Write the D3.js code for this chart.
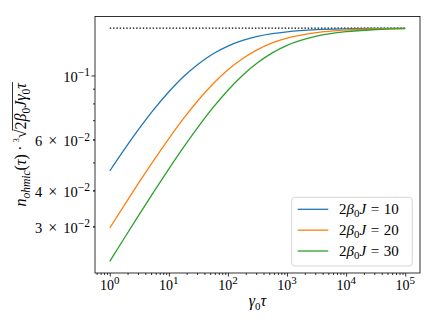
<!DOCTYPE html>
<html><head><meta charset="utf-8">
<script src="https://cdn.jsdelivr.net/npm/d3@7"></script>
<style>body{margin:0;background:#fff} text{font-family:"Liberation Serif","DejaVu Serif",serif;fill:#000}</style>
</head><body>
<svg id="c" width="436" height="327"></svg>
<script>
// ---- data ----
const tVals = [1, 1.778, 3.162, 5.623, 10, 17.78, 31.62, 56.23, 100, 177.8, 316.2, 562.3, 1000, 3162, 10000, 31623, 100000];
const series10 = [0.04667,0.05552,0.06552,0.07643,0.08780,0.09916,0.1096,0.1189,0.1264,0.1322,0.1365,0.1395,0.1416,0.1440,0.1450,0.14547,0.14562];
const series20 = [0.02963,0.03565,0.04278,0.05103,0.06048,0.07098,0.08219,0.09362,0.1046,0.1145,0.1229,0.1296,0.1346,0.1407,0.1436,0.1449,0.1455];
const series30 = [0.02271,0.02741,0.03302,0.03969,0.04747,0.05644,0.06653,0.07751,0.08891,0.1002,0.1106,0.1197,0.1271,0.1368,0.1418,0.1441,0.1452];
const limitValue = 0.1458;
const jValues = [10, 20, 30];
const colors = ["#1f77b4", "#ff7f0e", "#2ca02c"];
const xMajorTicks = [1, 10, 100, 1000, 10000, 100000];
const xTickExps = ["0", "1", "2", "3", "4", "5"];
const yLabeledTicks = [0.03, 0.04, 0.06, 0.1];
const yTickMantissa = ["3", "4", "6", ""];
const yTickExps = ["\u22122", "\u22122", "\u22122", "\u22121"];

const svg = d3.select("#c");
const L = 95, R = 420, T = 16.5, B = 273;
const allSeries = [series10, series20, series30];

function logPad(ext) {
  const a = Math.log10(ext[0]), b = Math.log10(ext[1]), m = (b - a) * 0.05;
  return [Math.pow(10, a - m), Math.pow(10, b + m)];
}
const x = d3.scaleLog().domain(logPad(d3.extent(tVals))).range([L, R]);
const yExt = d3.extent(allSeries.flat().concat([limitValue]));
const y = d3.scaleLog().domain(logPad(yExt)).range([B, T]);

// minor ticks
const xMinor = [];
for (let e = -1; e <= 5; e++) for (let k = 2; k <= 9; k++) {
  const v = k * Math.pow(10, e);
  if (v >= x.domain()[0] && v <= x.domain()[1]) xMinor.push(v);
}
const yMinor = [];
for (let e = -2; e <= -1; e++) for (let k = 2; k <= 9; k++) {
  const v = k * Math.pow(10, e);
  if (v >= y.domain()[0] && v <= y.domain()[1]) yMinor.push(v);
}

// axes
const gx = svg.append("g").attr("transform", `translate(0,${B})`);
gx.call(d3.axisBottom(x).tickValues(xMajorTicks).tickSize(3.5).tickFormat(""));
const gxm = svg.append("g").attr("transform", `translate(0,${B})`);
gxm.call(d3.axisBottom(x).tickValues(xMinor).tickSize(2).tickFormat(""));
const gy = svg.append("g").attr("transform", `translate(${L},0)`);
gy.call(d3.axisLeft(y).tickValues(yLabeledTicks).tickSize(2).tickFormat(""));
const gym = svg.append("g").attr("transform", `translate(${L},0)`);
gym.call(d3.axisLeft(y).tickValues(yMinor).tickSize(2).tickFormat(""));
gy.selectAll(".tick line").filter(d => d === 0.1).attr("x2", -3.5);
svg.selectAll(".domain").remove();
svg.selectAll(".tick line").attr("stroke", "#000").attr("stroke-width", 0.8);

// x tick labels
xMajorTicks.forEach((v, i) => {
  const t = svg.append("text").attr("x", x(v)).attr("y", 289.5).attr("text-anchor", "middle").attr("font-size", 14);
  t.append("tspan").text("10");
  t.append("tspan").attr("dy", -5.5).attr("font-size", 11).text(xTickExps[i]);
});
// y tick labels
yLabeledTicks.forEach((v, i) => {
  const t = svg.append("text").attr("x", L - 5).attr("y", y(v) + 6.5).attr("text-anchor", "end").attr("font-size", 14.5);
  if (yTickMantissa[i]) {
    t.append("tspan").text(yTickMantissa[i]);
    t.append("tspan").attr("dx", 6).attr("font-size", 16).text("\u00d7");
    t.append("tspan").attr("dx", 6).text("10");
  } else {
    t.append("tspan").text("10");
  }
  t.append("tspan").attr("dy", -5.5).attr("font-size", 11.5).text(yTickExps[i]);
});

// dotted limit line
svg.append("line")
  .attr("x1", x(tVals[0])).attr("x2", x(tVals[tVals.length - 1]))
  .attr("y1", y(limitValue)).attr("y2", y(limitValue))
  .attr("stroke", "#000").attr("stroke-width", 1.4).attr("stroke-dasharray", "1.4,1.9");

// curves
const line = d3.line().x(d => x(d[0])).y(d => y(d[1])).curve(d3.curveMonotoneX);
allSeries.forEach((s, i) => {
  svg.append("path").datum(tVals.map((t, j) => [t, s[j]]))
    .attr("d", line).attr("fill", "none").attr("stroke", colors[i]).attr("stroke-width", 1.3);
});

// frame
svg.append("rect").attr("x", L).attr("y", T).attr("width", R - L).attr("height", B - T)
  .attr("fill", "none").attr("stroke", "#000").attr("stroke-width", 0.8);

// x label
const xl = svg.append("text").attr("x", (L + R) / 2).attr("y", 306).attr("text-anchor", "middle").attr("font-size", 16);
xl.append("tspan").attr("font-style", "italic").text("\u03b3");
xl.append("tspan").attr("dy", 3.5).attr("font-size", 11).text("0");
xl.append("tspan").attr("dy", -3.5).attr("font-style", "italic").text("\u03c4");

// y label
const yg = svg.append("g").attr("transform", `translate(26,${(T + B) / 2}) rotate(-90)`);
const fs = 16;
const t1 = yg.append("text").attr("font-size", fs);
t1.append("tspan").attr("font-style", "italic").text("n");
t1.append("tspan").attr("font-style", "italic").attr("font-size", 11.5).attr("dy", 3.5).text("ohmic");
t1.append("tspan").attr("dy", -3.5).text("(");
t1.append("tspan").attr("font-style", "italic").text("\u03c4");
t1.append("tspan").text(")\u2009\u00b7\u2009");
t1.append("tspan").attr("font-size", 8).attr("dy", -7).text("3");
t1.append("tspan").attr("dy", 7).text("\u221a");
const t2 = yg.append("text").attr("font-size", fs);
t2.append("tspan").text("2");
t2.append("tspan").attr("font-style", "italic").text("\u03b2");
t2.append("tspan").attr("font-size", 11.5).attr("dy", 3.5).text("0");
t2.append("tspan").attr("font-style", "italic").attr("dy", -3.5).text("J");
t2.append("tspan").attr("font-style", "italic").text("\u03b3");
t2.append("tspan").attr("font-size", 11.5).attr("dy", 3.5).text("0");
t2.append("tspan").attr("font-style", "italic").attr("dy", -3.5).text("\u03c4");
const w1 = t1.node().getComputedTextLength(), w2 = t2.node().getComputedTextLength();
const x0 = -(w1 + w2) / 2;
t1.attr("x", x0);
t2.attr("x", x0 + w1);
yg.append("line").attr("x1", x0 + w1 - 1).attr("x2", x0 + w1 + w2 + 1).attr("y1", -13.5).attr("y2", -13.5)
  .attr("stroke", "#000").attr("stroke-width", 0.8);

// legend
const lg = svg.append("g");
lg.append("rect").attr("x", 291.7).attr("y", 197.3).attr("width", 120.6).attr("height", 68.7).attr("rx", 3)
  .attr("fill", "#fff").attr("fill-opacity", 0.8).attr("stroke", "#ccc").attr("stroke-width", 0.8);
jValues.forEach((jv, i) => {
  const yy = 209.3 + i * 20.85;
  lg.append("line").attr("x1", 297.7).attr("x2", 328.3).attr("y1", yy).attr("y2", yy)
    .attr("stroke", colors[i]).attr("stroke-width", 1.3);
  const t = lg.append("text").attr("x", 339).attr("y", yy + 5).attr("font-size", 15);
  t.append("tspan").text("2");
  t.append("tspan").attr("font-style", "italic").text("\u03b2");
  t.append("tspan").attr("font-size", 11).attr("dy", 3).text("0");
  t.append("tspan").attr("font-style", "italic").attr("dy", -3).text("J");
  t.append("tspan").attr("dx", 4.5).text("=");
  t.append("tspan").attr("dx", 4.5).text(String(jv));
});
</script>
</body></html>
